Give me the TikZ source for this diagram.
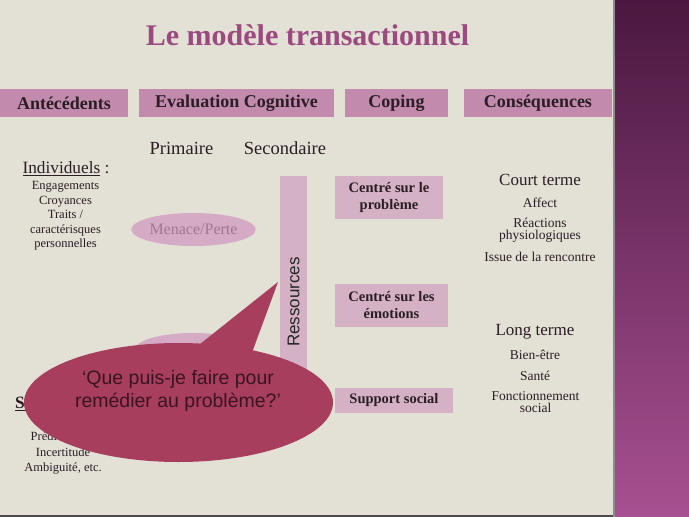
\documentclass[tikz,border=0pt]{standalone}
\usepackage{fontspec}
\usetikzlibrary{shapes.geometric}
\setmainfont{Liberation Serif}
\newfontfamily\arialf{Liberation Sans}
\definecolor{paper}{RGB}{227,224,214}
\definecolor{headfill}{RGB}{194,138,172}
\definecolor{copfill}{RGB}{212,177,197}
\definecolor{ovalfill}{RGB}{212,170,196}
\definecolor{bubblefill}{RGB}{168,62,94}
\definecolor{titlecol}{RGB}{155,74,128}
\definecolor{inkcol}{RGB}{43,30,36}
\definecolor{menacecol}{RGB}{160,120,142}
\definecolor{bandtop}{RGB}{74,24,64}
\definecolor{bandbot}{RGB}{168,80,145}
\begin{document}
\begin{tikzpicture}[x=1pt,y=-1pt,
  head/.style={fill=headfill,inner sep=0pt,text=inkcol,font=\fontsize{18}{20}\selectfont\bfseries,minimum height=28},
  copbox/.style={fill=copfill,inner sep=0pt,text=inkcol,align=center,font=\fontsize{14.5}{17}\selectfont\bfseries},
  oval/.style={ellipse,fill=ovalfill,minimum width=117,minimum height=33,inner sep=0pt,text=menacecol,font=\fontsize{16}{18}\selectfont},
  txt/.style={inner sep=0pt,text=inkcol,align=center},
  small/.style={txt,font=\fontsize{12.5}{14.6}\selectfont},
  mid/.style={txt,font=\fontsize{13.5}{12}\selectfont}]
  \useasboundingbox (0,0) rectangle (689,517);
  \fill[paper] (0,0) rectangle (614,517);
  \shade[top color=bandtop,bottom color=bandbot] (614,0) rectangle (689,517);
  \fill[black!45] (612.5,0) rectangle (614.5,517);
  \fill[black!70] (0,514.5) rectangle (612.5,517);
  \node[inner sep=0pt,text=titlecol,font=\fontsize{30}{32}\selectfont\bfseries] (title) at (307.5,35) {Le modèle transactionnel};
  \node[head,minimum width=128] (ante) at (64,103) {Antécédents};
  \node[head,minimum width=195] (evalc) at (236.5,103) {Evaluation Cognitive};
  \node[head,minimum width=103] (coping) at (396.5,103) {Coping};
  \node[head,minimum width=148] (conseq) at (538,103) {Conséquences};
  \node[txt,font=\fontsize{18.5}{20}\selectfont] (prim) at (181.5,148) {Primaire};
  \node[txt,font=\fontsize{18.5}{20}\selectfont] (second) at (285,148) {Secondaire};
  \node[txt,font=\fontsize{17.3}{19}\selectfont] (indiv) at (66,169) {\underline{Individuels} :};
  \node[small] (indivlist) at (65.5,216) {Engagements\\Croyances\\Traits /\\caractérisques\\personnelles};
  \node[oval] (menace) at (193.5,229.5) {Menace/Perte};
  \node[oval] (defi) at (193.5,349.5) {Défi};
  \node[fill=copfill,minimum width=27,minimum height=237,inner sep=0pt] (ressbar) at (293.5,294.5) {};
  \node[txt,rotate=90,text=black!85,font=\arialf\fontsize{17}{19}\selectfont] (ress) at (293.5,302) {Ressources};
  \node[copbox,minimum width=108,minimum height=43] (prob) at (389,197.5) {Centré sur le\\problème};
  \node[copbox,minimum width=113,minimum height=43] (emo) at (391.5,305.5) {Centré sur les\\émotions};
  \node[copbox,minimum width=118,minimum height=25] (supp) at (394,400.5) {Support social};
  \node[txt,font=\fontsize{17}{19}\selectfont] (court) at (540,180) {Court terme};
  \node[mid] (affect) at (540,203) {Affect};
  \node[mid] (reac) at (540,230) {Réactions\\physiologiques};
  \node[mid] (issue) at (540,257) {Issue de la rencontre};
  \node[txt,font=\fontsize{17}{19}\selectfont] (long) at (535,332) {Long terme};
  \node[mid] (bien) at (535,355) {Bien-être};
  \node[mid] (sante) at (535,376) {Santé};
  \node[mid] (fonct) at (535.5,402.5) {Fonctionnement\\social};
  \node[txt,anchor=west,font=\fontsize{17.3}{19}\selectfont\bfseries] (situ) at (15,404) {\underline{Situationnels} :};
  \node[small,text depth=0pt,font=\fontsize{12.5}{15.5}\selectfont] (situlist) at (63,452) {Prédictibilité\\Incertitude\\Ambiguité, etc.};
  \fill[bubblefill] (178.5,402.5) ellipse [x radius=154.5,y radius=59.5];
  \fill[bubblefill] (190,352) -- (278,282) -- (250,358) -- cycle;
  \node[inner sep=0pt,align=center,text={rgb,255:red,58;green,20;blue,32},font=\arialf\fontsize{19.5}{23}\selectfont] (bubble) at (178,391) {‘Que puis-je faire pour\\remédier au problème?’};
\end{tikzpicture}
\end{document}
